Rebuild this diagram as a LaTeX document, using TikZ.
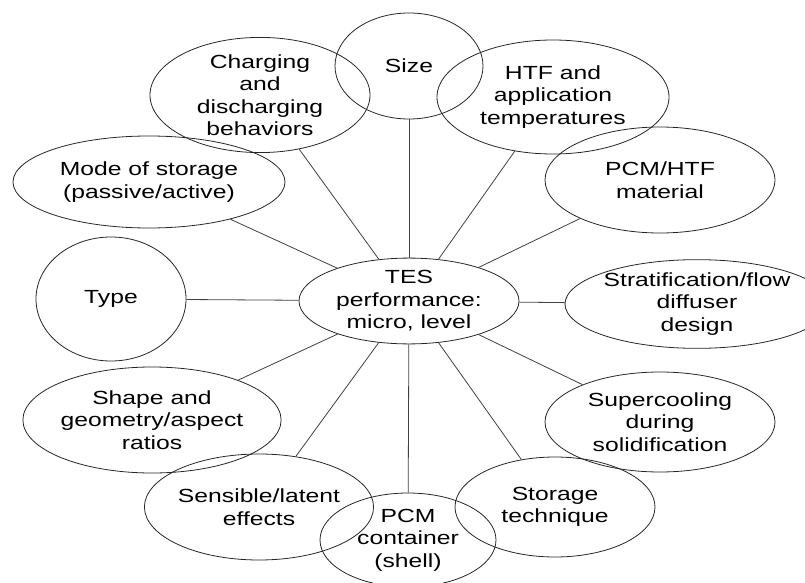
\documentclass[tikz,border=0pt]{standalone}
\usepackage{fontspec}
\setmainfont{Liberation Sans}[FakeStretch=1.3]
\usetikzlibrary{shapes.geometric}

\begin{document}
\begin{tikzpicture}[x=1pt, y=-1pt,
    bubble/.style={draw=black!85, line width=0.8pt, ellipse, inner sep=0pt, align=center, font=\fontsize{19}{22.5}\selectfont},
    spoke/.style={draw=black!75, line width=0.8pt}]
    \useasboundingbox (0,0) rectangle (805,583);
    \clip (0,0) rectangle (805,583);

    \node[bubble, minimum width=220, minimum height=78] (tes) at (409,301) {TES\\performance:\\micro, level};

    \node[bubble, minimum width=148, minimum height=106] (size) at (409,66) {Size};
    \node[bubble, minimum width=220, minimum height=110] (charge) at (260,95) {Charging\\and\\discharging\\behaviors};
    \node[bubble, minimum width=232, minimum height=114] (htf) at (553,97) {HTF and\\application\\temperatures};
    \node[bubble, minimum width=230, minimum height=106] (mat) at (660,180) {PCM/HTF\\material};
    \node[bubble, minimum width=272, minimum height=92] (mode) at (149,182) {Mode of storage\\(passive/active)};
    \node[bubble, minimum width=150, minimum height=124] (type) at (111,299) {Type};
    \node[bubble, minimum width=228, minimum height=84] (strat) at (697,304) {Stratification/flow\\diffuser\\design};
    \node[bubble, minimum width=194, minimum height=106] (shape) at (152,420) {Shape and\\geometry/aspect\\ratios};
    \node[bubble, minimum width=230, minimum height=100] (super) at (660,422) {Supercooling\\during\\solidification};
    \node[bubble, minimum width=172, minimum height=106] (sens) at (259,507) {Sensible/latent\\effects};
    \node[bubble, minimum width=200, minimum height=100] (tech) at (555,507) {Storage\\technique};
    \node[bubble, minimum width=176, minimum height=94] (shell) at (408,540) {PCM\\container\\(shell)};

    \draw[spoke] (tes) -- (size);
    \draw[spoke] (tes) -- (charge);
    \draw[spoke] (tes) -- (htf);
    \draw[spoke] (tes) -- (mat);
    \draw[spoke] (tes) -- (mode);
    \draw[spoke] (tes) -- (type);
    \draw[spoke] (tes) -- (strat);
    \draw[spoke] (tes) -- (shape);
    \draw[spoke] (tes) -- (super);
    \draw[spoke] (tes) -- (sens);
    \draw[spoke] (tes) -- (tech);
    \draw[spoke] (tes) -- (shell);
\end{tikzpicture}
\end{document}
